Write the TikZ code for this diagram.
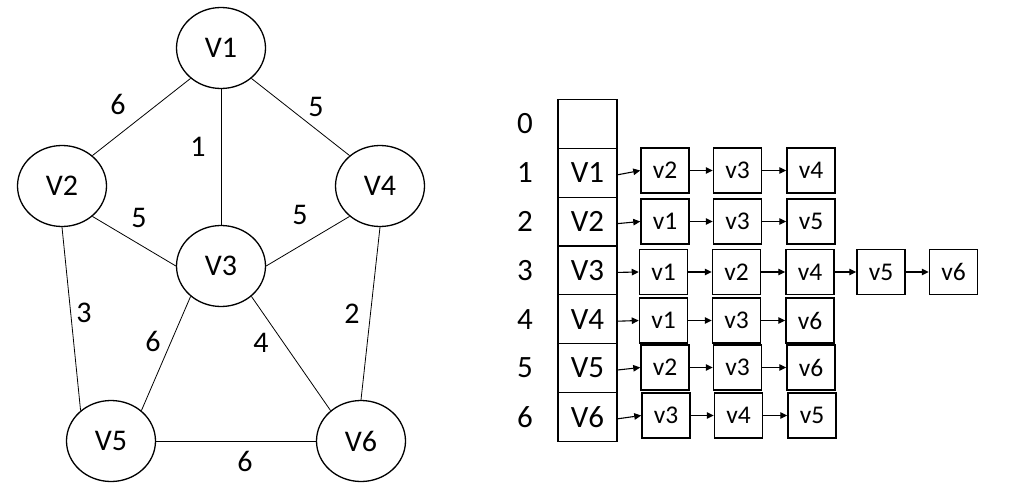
\documentclass[tikz,border=0pt]{standalone}
\usepackage{fontspec}
\setmainfont{Carlito}
\usetikzlibrary{shapes.geometric,arrows.meta}
\begin{document}
\begin{tikzpicture}[x=1pt,y=-1pt,
  vert/.style={draw,ellipse,line width=1.3pt,minimum width=89pt,minimum height=81pt,inner sep=0pt,font=\fontsize{30}{32}\selectfont},
  edge/.style={line width=0.8pt},
  wlab/.style={inner sep=0pt,font=\fontsize{30}{32}\selectfont},
  idx/.style={draw,line width=1.3pt,minimum width=59pt,minimum height=48.8pt,inner sep=0pt,font=\fontsize{31}{33}\selectfont},
  num/.style={inner sep=0pt,font=\fontsize{31}{33}\selectfont},
  item/.style={draw,line width=1.5pt,minimum width=48pt,minimum height=45pt,inner sep=0pt,font=\fontsize{25.5}{27}\selectfont},
  lnk/.style={line width=1.1pt,-{Triangle[length=7pt,width=6.5pt]}}]
\useasboundingbox (0,0) rectangle (1011,503);
% graph
\node[vert] (V1) at (221,48) {V1};
\node[vert] (V2) at (62,186) {V2};
\node[vert] (V4) at (380,186) {V4};
\node[vert] (V3) at (221,266) {V3};
\node[vert] (V5) at (111,441) {V5};
\node[vert] (V6) at (361,441) {V6};
\draw[edge] (V1.225) -- (V2.45);
\draw[edge] (V1.south) -- (V3.north);
\draw[edge] (V1.-45) -- (V4.135);
\draw[edge] (V2.-45) -- (V3.west);
\draw[edge] (V3.east) -- (V4.225);
\draw[edge] (V2.south) -- (V5.135);
\draw[edge] (V4.south) -- (V6.north);
\draw[edge] (V3.225) -- (V5.45);
\draw[edge] (V3.-45) -- (V6.135);
\draw[edge] (V5.east) -- (V6.west);
\node[wlab] (w12) at (118,104) {6};
\node[wlab] (w13) at (198,147) {1};
\node[wlab] (w14) at (316,107) {5};
\node[wlab] (w23) at (139,218) {5};
\node[wlab] (w34) at (300,215) {5};
\node[wlab] (w25) at (84,313) {3};
\node[wlab] (w35) at (153,341) {6};
\node[wlab] (w36) at (261,343) {4};
\node[wlab] (w46) at (352,314) {2};
\node[wlab] (w56) at (245,461) {6};
% index column
\node[idx] (i0) at (587.5,124) {};
\node[idx] (i1) at (587.5,172.8) {V1};
\node[idx] (i2) at (587.5,221.6) {V2};
\node[idx] (i3) at (587.5,270.4) {V3};
\node[idx] (i4) at (587.5,319.2) {V4};
\node[idx] (i5) at (587.5,368) {V5};
\node[idx] (i6) at (587.5,416.8) {V6};
\node[num] (n0) at (525,124) {0};
\node[num] (n1) at (525,172.8) {1};
\node[num] (n2) at (525,221.6) {2};
\node[num] (n3) at (525,270.4) {3};
\node[num] (n4) at (525,319.2) {4};
\node[num] (n5) at (525,368) {5};
\node[num] (n6) at (525,416.8) {6};
% row 1
\node[item] (a1) at (665,170.5) {v2};
\node[item] (b1) at (737.5,170.5) {v3};
\node[item] (c1) at (811,170.5) {v4};
% row 2
\node[item] (a2) at (665,221.5) {v1};
\node[item] (b2) at (737.5,221.5) {v3};
\node[item] (c2) at (811,221.5) {v5};
% row 3
\node[item] (a3) at (663.5,272) {v1};
\node[item] (b3) at (736.5,272) {v2};
\node[item] (c3) at (810,272) {v4};
\node[item] (d3) at (881,272) {v5};
\node[item] (e3) at (953.5,272) {v6};
% row 4
\node[item] (a4) at (663.5,320.5) {v1};
\node[item] (b4) at (736.5,320.5) {v3};
\node[item] (c4) at (810,320.5) {v6};
% row 5
\node[item] (a5) at (665,367.5) {v2};
\node[item] (b5) at (737.5,367.5) {v3};
\node[item] (c5) at (811,367.5) {v6};
% row 6
\node[item] (a6) at (666,415.5) {v3};
\node[item] (b6) at (738.5,415.5) {v4};
\node[item] (c6) at (812,415.5) {v5};
\foreach \r in {1,...,6}{
  \draw[lnk] ([yshift=-2pt]i\r.east) -- (a\r.west);
  \draw[lnk] (a\r.east) -- (b\r.west);
  \draw[lnk] (b\r.east) -- (c\r.west);
}
\draw[lnk] (c3.east) -- (d3.west);
\draw[lnk] (d3.east) -- (e3.west);
\end{tikzpicture}
\end{document}
